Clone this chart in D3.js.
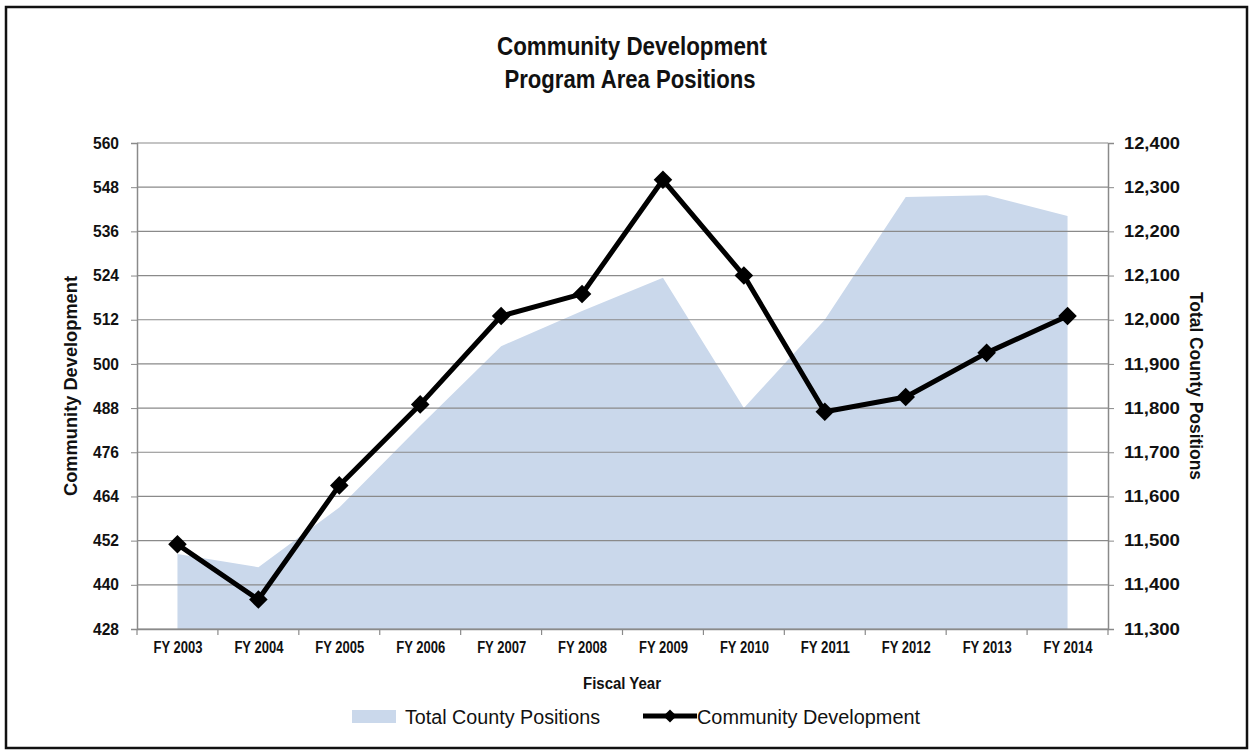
<!DOCTYPE html>
<html>
<head>
<meta charset="utf-8">
<script src="https://cdn.jsdelivr.net/npm/d3@7"></script>
<style>
  body { margin: 0; background: #fff; }
  text { font-family: "Liberation Sans Narrow", "Liberation Sans", sans-serif; }
</style>
</head>
<body>
<script>

var years = ["FY 2003", "FY 2004", "FY 2005", "FY 2006", "FY 2007", "FY 2008",
             "FY 2009", "FY 2010", "FY 2011", "FY 2012", "FY 2013", "FY 2014"];
var communityDev = [451, 436, 467, 489, 513, 519, 550, 524, 487, 491, 503, 513];
var totalCounty = [11470, 11440, 11575, 11760, 11940, 12020, 12095, 11800, 12000, 12278, 12282, 12235];
var leftTicks = [428, 440, 452, 464, 476, 488, 500, 512, 524, 536, 548, 560];
var rightTicks = [11300, 11400, 11500, 11600, 11700, 11800, 11900, 12000, 12100, 12200, 12300, 12400];

var width = 1251, height = 751;
var plotLeft = 137, plotRight = 1108, plotTop = 143, plotBottom = 629;

var svg = d3.select("body").append("svg")
    .attr("width", width)
    .attr("height", height);

// squeeze text to look like the narrow font of the original
function squeeze(sel, len) {
    sel.attr("textLength", len).attr("lengthAdjust", "spacingAndGlyphs");
}

// frame
svg.append("rect")
    .attr("x", 6).attr("y", 7)
    .attr("width", 1241).attr("height", 741)
    .attr("fill", "none")
    .attr("stroke", "#111")
    .attr("stroke-width", 2.5);

var x = d3.scalePoint()
    .domain(years)
    .range([plotLeft, plotRight])
    .padding(0.5);

var band = (plotRight - plotLeft) / years.length;

var yLeft = d3.scaleLinear().domain([428, 560]).range([plotBottom, plotTop]);
var yRight = d3.scaleLinear().domain([11300, 12400]).range([plotBottom, plotTop]);

// area (total county positions)
var area = d3.area()
    .x((d, i) => x(years[i]))
    .y0(plotBottom)
    .y1(d => yRight(d));

svg.append("path")
    .datum(totalCounty)
    .attr("d", area)
    .attr("fill", "#cad8eb");

// gridlines
svg.append("g")
    .selectAll("line")
    .data(leftTicks)
    .enter()
    .append("line")
    .attr("x1", plotLeft)
    .attr("x2", plotRight)
    .attr("y1", d => yLeft(d))
    .attr("y2", d => yLeft(d))
    .attr("stroke", "#8a8a8a")
    .attr("stroke-width", 1.2);

// left axis
var axisL = svg.append("g")
    .attr("transform", "translate(" + plotLeft + ",0)")
    .call(d3.axisLeft(yLeft).tickValues(leftTicks).tickSize(6).tickPadding(12));
axisL.select(".domain").attr("stroke", "#8a8a8a").attr("stroke-width", 1.5);
axisL.selectAll(".tick line").attr("stroke", "#8a8a8a");
axisL.selectAll("text")
    .attr("font-size", 16)
    .attr("font-weight", "bold")
    .attr("fill", "#111")
    .style("font-family", "'Liberation Sans', sans-serif")
    .call(squeeze, 26);

// right axis
var axisR = svg.append("g")
    .attr("transform", "translate(" + plotRight + ",0)")
    .call(d3.axisRight(yRight).tickValues(rightTicks).tickSize(6).tickPadding(10)
        .tickFormat(d3.format(",")));
axisR.select(".domain").attr("stroke", "#8a8a8a").attr("stroke-width", 1.5);
axisR.selectAll(".tick line").attr("stroke", "#8a8a8a");
axisR.selectAll("text")
    .attr("font-size", 16)
    .attr("font-weight", "bold")
    .attr("fill", "#111")
    .style("font-family", "'Liberation Sans', sans-serif")
    .call(squeeze, 56);

// bottom axis
var axisB = svg.append("g")
    .attr("transform", "translate(0," + plotBottom + ")")
    .call(d3.axisBottom(x).tickSize(0).tickPadding(13));
axisB.select(".domain").attr("stroke", "#8a8a8a").attr("stroke-width", 1.5);
axisB.selectAll("text")
    .attr("font-size", 16)
    .attr("font-weight", "bold")
    .attr("fill", "#111")
    .style("font-family", "'Liberation Sans', sans-serif")
    .call(squeeze, 49);

// category boundary ticks
svg.append("g")
    .selectAll("line")
    .data(d3.range(years.length + 1))
    .enter()
    .append("line")
    .attr("x1", i => plotLeft + i * band)
    .attr("x2", i => plotLeft + i * band)
    .attr("y1", plotBottom)
    .attr("y2", plotBottom + 6)
    .attr("stroke", "#8a8a8a")
    .attr("stroke-width", 1.2);

// community development line
var line = d3.line()
    .x((d, i) => x(years[i]))
    .y(d => yLeft(d));

svg.append("path")
    .datum(communityDev)
    .attr("d", line)
    .attr("fill", "none")
    .attr("stroke", "#000")
    .attr("stroke-width", 5)
    .attr("stroke-linejoin", "round");

var diamond = d3.symbol().type(d3.symbolDiamond2).size(220);

svg.append("g")
    .selectAll("path")
    .data(communityDev)
    .enter()
    .append("path")
    .attr("d", diamond)
    .attr("transform", (d, i) => "translate(" + x(years[i]) + "," + yLeft(d) + ")")
    .attr("fill", "#000");

// titles
svg.append("text")
    .attr("x", 632).attr("y", 55)
    .attr("text-anchor", "middle")
    .attr("font-size", 26)
    .attr("font-weight", "bold")
    .attr("fill", "#111")
    .text("Community Development")
    .call(squeeze, 270);
svg.append("text")
    .attr("x", 630).attr("y", 88)
    .attr("text-anchor", "middle")
    .attr("font-size", 26)
    .attr("font-weight", "bold")
    .attr("fill", "#111")
    .text("Program Area Positions")
    .call(squeeze, 251);

svg.append("text")
    .attr("transform", "translate(77," + ((plotTop + plotBottom) / 2) + ") rotate(-90)")
    .attr("text-anchor", "middle")
    .attr("font-size", 19)
    .attr("font-weight", "bold")
    .attr("fill", "#111")
    .text("Community Development")
    .call(squeeze, 220);

svg.append("text")
    .attr("transform", "translate(1190," + ((plotTop + plotBottom) / 2) + ") rotate(90)")
    .attr("text-anchor", "middle")
    .attr("font-size", 19)
    .attr("font-weight", "bold")
    .attr("fill", "#111")
    .text("Total County Positions")
    .call(squeeze, 188);

svg.append("text")
    .attr("x", 622)
    .attr("y", 689)
    .attr("text-anchor", "middle")
    .attr("font-size", 16)
    .attr("font-weight", "bold")
    .attr("fill", "#111")
    .text("Fiscal Year")
    .call(squeeze, 78);

// legend
var legend = svg.append("g");
legend.append("rect")
    .attr("x", 352).attr("y", 710)
    .attr("width", 44).attr("height", 13)
    .attr("fill", "#cad8eb");
legend.append("text")
    .attr("x", 405).attr("y", 724)
    .attr("font-size", 20)
    .attr("fill", "#111")
    .text("Total County Positions")
    .call(squeeze, 195);
legend.append("line")
    .attr("x1", 643).attr("x2", 697)
    .attr("y1", 716).attr("y2", 716)
    .attr("stroke", "#000")
    .attr("stroke-width", 5);
legend.append("path")
    .attr("d", d3.symbol().type(d3.symbolDiamond2).size(110))
    .attr("transform", "translate(670,716)")
    .attr("fill", "#000");
legend.append("text")
    .attr("x", 697).attr("y", 724)
    .attr("font-size", 20)
    .attr("fill", "#111")
    .text("Community Development")
    .call(squeeze, 223);

</script>
</body>
</html>
